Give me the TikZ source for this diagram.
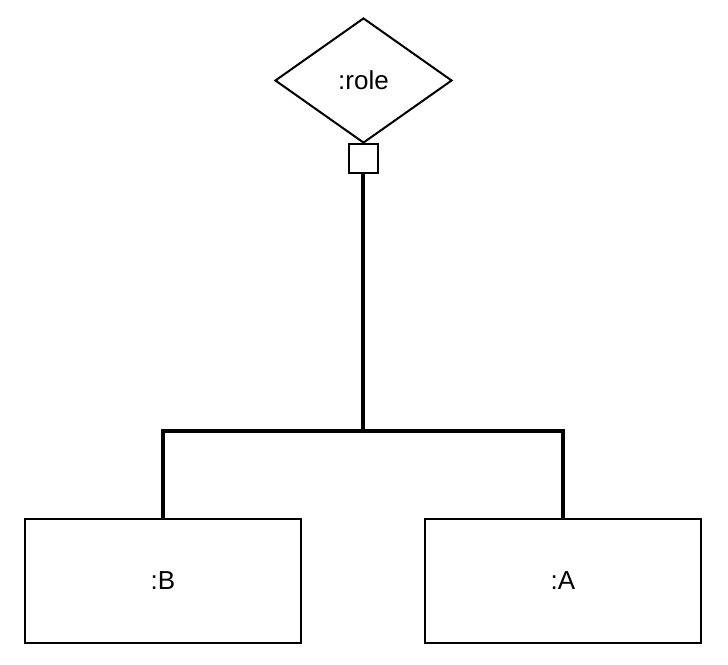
\documentclass[tikz,border=0pt]{standalone}
\usepackage{fontspec}
\setmainfont{Liberation Sans}
\usetikzlibrary{shapes.geometric}
\begin{document}
\begin{tikzpicture}[x=1pt,y=-1pt,
  labelfont/.style={font=\fontsize{26}{31}\selectfont},
  thinline/.style={draw=black,line width=2pt},
  thickline/.style={draw=black,line width=4pt,line join=miter},
  objbox/.style={thinline,fill=white,rectangle,inner sep=0pt,
    minimum width=276pt,minimum height=124pt,labelfont},
  rolebox/.style={thinline,fill=white,diamond,inner sep=0pt,
    minimum width=177pt,minimum height=125pt,labelfont},
  portbox/.style={thinline,fill=white,rectangle,inner sep=0pt,minimum size=29pt}]
  \useasboundingbox (0,0) rectangle (728,664);
  \node[rolebox] (role) at (363.5,80.5) {:role};
  \node[portbox] (port) at (363,158.5) {};
  \node[objbox] (b) at (163,580.5) {:B};
  \node[objbox] (a) at (563,580.5) {:A};
  \coordinate (j) at (363,431);
  \draw[thickline] (port.south) -- (j);
  \draw[thickline] (b.north) |- (j) -| (a.north);
\end{tikzpicture}
\end{document}
